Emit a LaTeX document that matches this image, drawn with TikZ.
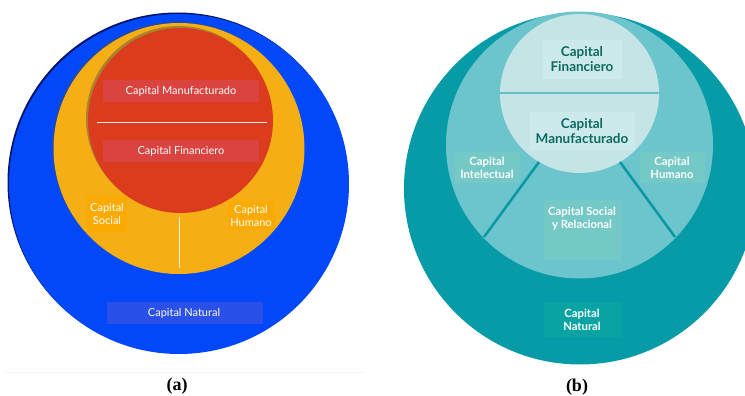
\documentclass[tikz,border=0pt]{standalone}
\usepackage{fontspec}
\setmainfont{Lato}
\newfontfamily\capfont{Liberation Serif}
\definecolor{cblue}{RGB}{0,72,250}
\definecolor{cblueshade}{RGB}{0,20,110}
\definecolor{corange}{RGB}{245,175,20}
\definecolor{cred}{RGB}{220,60,30}
\definecolor{credbox}{RGB}{218,68,64}
\definecolor{corbox}{RGB}{250,170,0}
\definecolor{cnatbox}{RGB}{42,80,232}
\definecolor{touter}{RGB}{7,155,168}
\definecolor{tmid}{RGB}{108,196,204}
\definecolor{tinner}{RGB}{196,228,230}
\definecolor{tinbox}{RGB}{204,233,235}
\definecolor{tmidbox}{RGB}{116,200,198}
\definecolor{tnatbox}{RGB}{10,163,163}
\definecolor{ttext}{RGB}{14,105,98}
\definecolor{tline}{RGB}{10,151,165}
\definecolor{tsplit}{RGB}{99,191,200}
\tikzset{
  alab/.style={text=white,font=\fontsize{11}{12.7}\selectfont,align=center,inner sep=0pt},
  bdark/.style={text=ttext,font=\bfseries\fontsize{13.5}{15.5}\selectfont,align=center,inner sep=0pt},
  bwhite/.style={text=white,font=\bfseries\fontsize{11.3}{13.3}\selectfont,align=center,inner sep=0pt},
  caplab/.style={font=\capfont\bfseries\fontsize{18}{20}\selectfont,inner sep=0pt},
}
\begin{document}
\begin{tikzpicture}[x=1pt,y=-1pt]
\useasboundingbox (0,0) rectangle (745,396);
\fill[white] (0,0) rectangle (745,396);
% ---------- (a) ----------
\fill[cblueshade] (177.5,182.5) circle (170);
\fill[cblue] (179,184) circle (170);
\fill[black!70,opacity=.4] (177.3,146.8) circle (125.5);
\fill[corange] (179,148.5) circle (125.5);
\fill[black!70,opacity=.45] (178.5,118.5) circle (92.5);
\fill[cred] (180.5,120.5) circle (92.5);
\coordinate (wl1) at (97,122); \coordinate (wl2) at (267,122);
\draw[white!90!red,line width=1pt] (wl1) -- (wl2);
\coordinate (vl1) at (179,217); \coordinate (vl2) at (179,268);
\draw[white!90!orange,line width=1pt] (vl1) -- (vl2);
\fill[credbox] (103,80) rectangle (259,102);
\fill[credbox] (103,140) rectangle (259,162);
\fill[corbox] (86,196) rectangle (127,232);
\fill[corbox] (228,201) rectangle (275,230);
\fill[cnatbox] (107,302) rectangle (263,324);
\node[alab] (aman) at (181,91) {Capital Manufacturado};
\node[alab] (afin) at (181,151) {Capital Financiero};
\node[alab] (asoc) at (107,214) {Capital\\Social};
\node[alab] (ahum) at (251,216) {Capital\\Humano};
\node[alab] (anat) at (184,313) {Capital Natural};
\coordinate (bl1) at (5,372.5); \coordinate (bl2) at (365,372.5);
\draw[black!4,line width=.8pt] (bl1) -- (bl2);
\node[caplab] (capa) at (177,386) {(a)};
% ---------- (b) ----------
\fill[touter] (580,188.5) circle (176);
\fill[tmid] (579.5,145) circle (133.5);
\fill[tinner] (579.5,93.5) circle (79.5);
\coordinate (hs1) at (500,93); \coordinate (hs2) at (659,93);
\draw[tsplit,line width=2pt] (hs1) -- (hs2);
\coordinate (d1a) at (539,162); \coordinate (d1b) at (484,237);
\coordinate (d2a) at (620,162); \coordinate (d2b) at (675,237);
\draw[tline,line width=2.5pt] (d1a) -- (d1b);
\draw[tline,line width=2.5pt] (d2a) -- (d2b);
\fill[tinbox] (543,40) rectangle (622,79);
\fill[tinbox] (530,112) rectangle (635,150);
\fill[tmidbox] (455,152) rectangle (520,183);
\fill[tmidbox] (640,152) rectangle (705,183);
\fill[tmidbox] (544,200) rectangle (622,260);
\fill[tnatbox] (544,302) rectangle (622,337);
\node[bdark] (bfin) at (582,59) {Capital\\Financiero};
\node[bdark] (bman) at (582,131) {Capital\\Manufacturado};
\node[bwhite] (bint) at (487,168) {Capital\\Intelectual};
\node[bwhite] (bhum) at (672,168) {Capital\\Humano};
\node[bwhite] (bsoc) at (582,219) {Capital Social\\y Relacional};
\node[bwhite] (bnat) at (582,320) {Capital\\Natural};
\node[caplab] (capb) at (577,387) {(b)};
\end{tikzpicture}
\end{document}
